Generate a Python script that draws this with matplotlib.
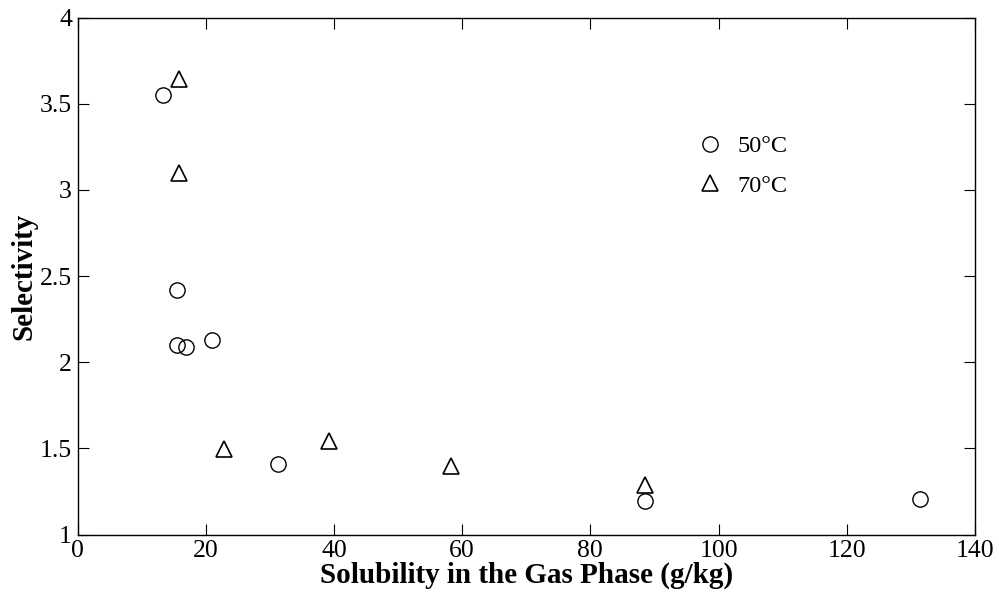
import matplotlib
matplotlib.use("Agg")
import matplotlib.pyplot as plt

x50 = [13.3, 15.5, 15.5, 16.9, 21.0, 31.3, 88.5, 131.4]
y50 = [3.55, 2.42, 2.10, 2.09, 2.13, 1.41, 1.195, 1.205]
x70 = [15.8, 15.8, 22.9, 39.2, 58.3, 88.5]
y70 = [3.645, 3.095, 1.495, 1.545, 1.395, 1.285]
xticks = [0, 20, 40, 60, 80, 100, 120, 140]
yticks = [1, 1.5, 2, 2.5, 3, 3.5, 4]
yticklabels = ["1", "1.5", "2", "2.5", "3", "3.5", "4"]

plt.rcParams['font.family'] = ['Liberation Serif', 'DejaVu Serif']
fig = plt.figure(figsize=(9.99, 5.98), dpi=100)
ax = fig.add_axes([77.5/999, 1-534.5/598, 897.5/999, 517/598])

ax.plot(x50, y50, 'o', ms=11, mfc='none', mec='black', mew=1.0, ls='none', label='50°C')
ax.plot(x70, y70, '^', ms=11.5, mfc='none', mec='black', mew=1.2, ls='none', label='70°C')

ax.set_xlim(0, 140)
ax.set_ylim(1, 4)
ax.set_xticks(xticks)
ax.set_yticks(yticks)
ax.set_yticklabels(yticklabels)
ax.tick_params(direction='in', length=8, width=0.8, top=True, right=True, labelsize=18.5, pad=4)
for s in ax.spines.values():
    s.set_linewidth(1.0)
ax.set_xlabel('Solubility in the Gas Phase (g/kg)', fontsize=21, fontweight='bold', labelpad=0)
ax.set_ylabel('Selectivity', fontsize=21, fontweight='bold', labelpad=2)
ax.legend(loc='upper left', bbox_to_anchor=(0.664, 0.815), frameon=False, fontsize=17.5,
          handletextpad=0.55, labelspacing=0.72, handlelength=1.2)

fig.savefig('out.png', dpi=100)
